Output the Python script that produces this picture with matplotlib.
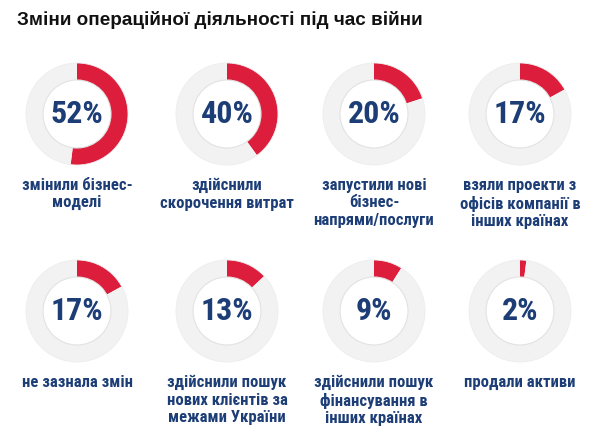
import matplotlib
matplotlib.use("Agg")
import matplotlib.pyplot as plt

# --- data ---
title = "Зміни операційної діяльності під час війни"
values = [52, 40, 20, 17, 17, 13, 9, 2]
labels = [
    "змінили бізнес-\nмоделі",
    "здійснили\nскорочення витрат",
    "запустили нові\nбізнес-\nнапрями/послуги",
    "взяли проекти з\nофісів компанії в\nінших країнах",
    "не зазнала змін",
    "здійснили пошук\nнових клієнтів за\nмежами України",
    "здійснили пошук\nфінансування в\nінших країнах",
    "продали активи",
]

# --- layout (pixels) ---
W, H = 600, 445
col_x = [77, 227, 374, 520]
row_y = [114, 311]
r_out, r_in = 51, 34
RED = "#DC1E3C"
GREY = "#F2F2F2"
NAVY = "#1C3D76"
narrow = ["Roboto Condensed", "DejaVu Sans"]

fig = plt.figure(figsize=(W / 100, H / 100), dpi=100)
ax = fig.add_axes([0, 0, 1, 1])

for i, (v, lab) in enumerate(zip(values, labels)):
    cx = col_x[i % 4]
    cy = H - row_y[i // 4]
    ax.pie([v, 100 - v], colors=[RED, GREY], startangle=90, counterclock=False,
           center=(cx, cy), radius=r_out,
           wedgeprops=dict(width=r_out - r_in, edgecolor="none"))
    ax.add_patch(plt.Circle((cx, cy), r_in, fill=False, edgecolor="#E2E2E2", lw=0.8))
    ax.add_patch(plt.Circle((cx, cy), r_out, fill=False, edgecolor="#EDEDED", lw=0.6))
    ax.text(cx, cy, f"{v}%", ha="center", va="center", fontsize=23,
            fontweight="bold", color=NAVY, family=narrow)
    ax.text(cx, cy - 64, lab, ha="center", va="top", fontsize=12,
            fontweight="bold", color=NAVY, family=narrow, linespacing=1.2)

ax.text(17, H - 20, title, ha="left", va="center", fontsize=13.6,
        fontweight="bold", color="#111111", family=["Liberation Sans", "DejaVu Sans"])

ax.set_xlim(0, W)
ax.set_ylim(0, H)
ax.set_aspect("equal")
ax.axis("off")

fig.savefig("out.png", dpi=100)
plt.close(fig)
